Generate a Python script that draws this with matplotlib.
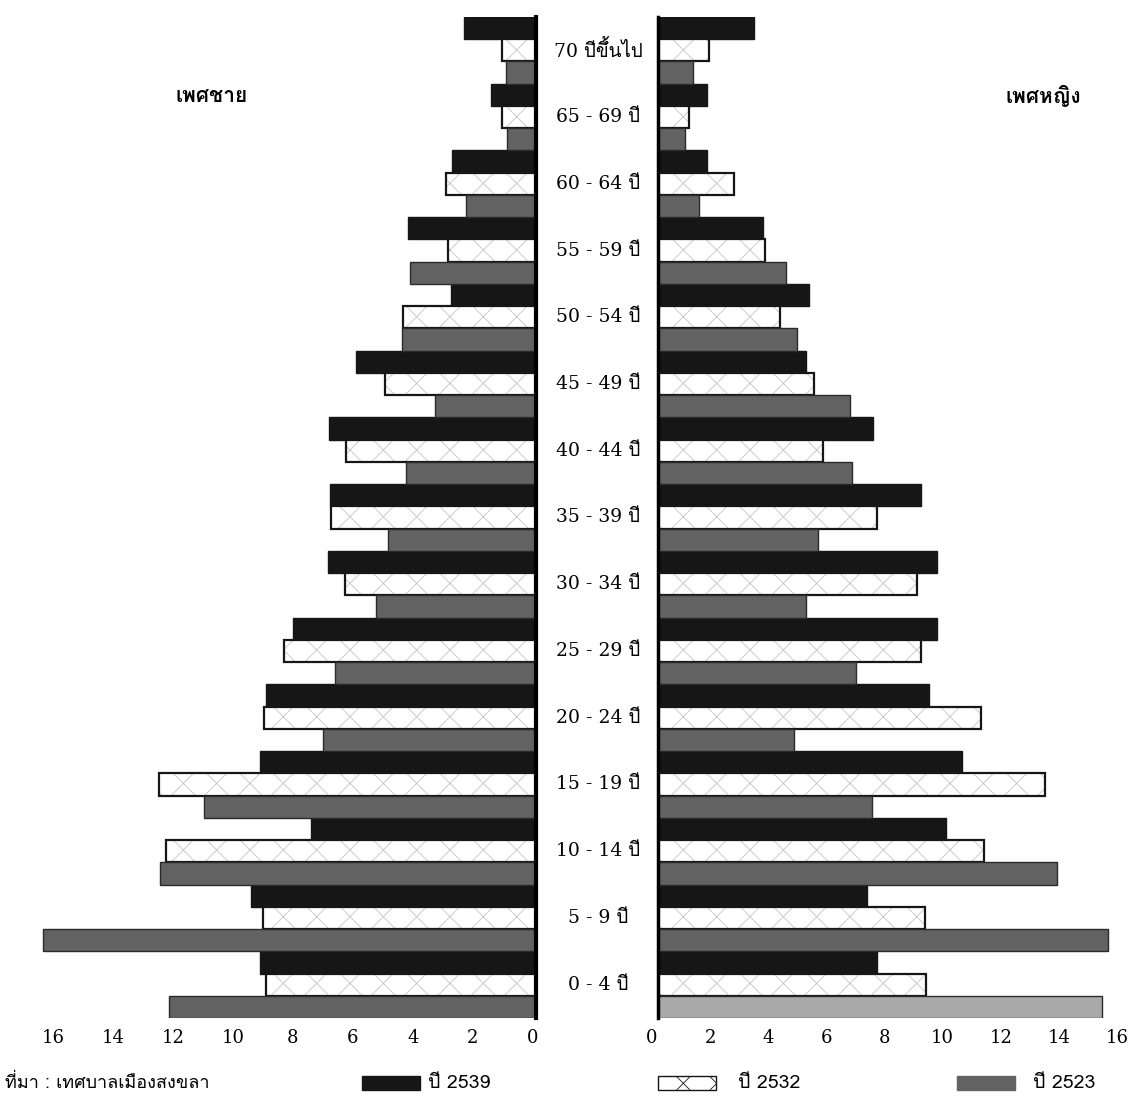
"""Population pyramid of Songkhla municipality, three census years."""

import matplotlib
matplotlib.use("Agg")
import matplotlib.pyplot as plt
from matplotlib import font_manager
from matplotlib.patches import Rectangle
from matplotlib.transforms import ScaledTranslation
from fontTools.ttLib import TTFont

# age groups, bottom to top
age_labels = ['0 - 4 ปี', '5 - 9 ปี', '10 - 14 ปี', '15 - 19 ปี', '20 - 24 ปี',
              '25 - 29 ปี', '30 - 34 ปี', '35 - 39 ปี', '40 - 44 ปี', '45 - 49 ปี',
              '50 - 54 ปี', '55 - 59 ปี', '60 - 64 ปี', '65 - 69 ปี', '70 ปีขึ้นไป']

# percent, male
male_2539 = [9.2, 9.5, 7.5, 9.2, 9.0, 8.1, 6.95, 6.87, 6.9, 6.0, 2.83, 4.27, 2.8, 1.5, 2.4]
male_2532 = [9.0, 9.1, 12.33, 12.57, 9.08, 8.4, 6.37, 6.83, 6.33, 5.03, 4.45, 2.93, 3.0, 1.13, 1.13]
male_2523 = [12.25, 16.43, 12.53, 11.07, 7.1, 6.7, 5.33, 4.95, 4.33, 3.37, 4.47, 4.2, 2.33, 0.97, 1.0]

# percent, female
female_2539 = [7.52, 7.2, 9.9, 10.45, 9.31, 9.61, 9.61, 9.06, 7.39, 5.08, 5.19, 3.61, 1.68, 1.68, 3.3]
female_2532 = [9.23, 9.2, 11.2, 13.3, 11.12, 9.06, 8.92, 7.52, 5.66, 5.36, 4.19, 3.68, 2.61, 1.07, 1.74]
female_2523 = [15.28, 15.49, 13.74, 7.35, 4.67, 6.8, 5.08, 5.5, 6.67, 6.6, 4.77, 4.39, 1.42, 0.93, 1.19]

ticks = [0, 2, 4, 6, 8, 10, 12, 14, 16]
years = ['ปี 2539', 'ปี 2532', 'ปี 2523']
source = 'ที่มา : เทศบาลเมืองสงขลา'


def find_thai_font():
    """Return the name of an installed family that has Thai glyphs."""
    for f in font_manager.fontManager.ttflist:
        try:
            tt = TTFont(f.fname, fontNumber=0, lazy=True)
            cmap = tt.getBestCmap() or {}
            if 0x0E1B in cmap and 0x0E35 in cmap:
                return f.name
        except Exception:
            continue
    return None


thai = find_thai_font()
thai_first = ([thai] if thai else []) + ['DejaVu Sans']
serif_first = ['DejaVu Serif'] + ([thai] if thai else []) + ['DejaVu Sans']
plt.rcParams['font.family'] = thai_first
plt.rcParams['hatch.linewidth'] = 0.6

BLACK = '#161616'
GRAY = '#626262'
HATCH_C = '#c4c4c4'

fig = plt.figure(figsize=(11.31, 10.96), dpi=100)
W, H = 1131, 1096

top_px, bot_px = 17, 1018
ax_b = 1 - bot_px / H
ax_h = (bot_px - top_px) / H

ax_m = fig.add_axes([35 / W, ax_b, 501 / W, ax_h])
ax_f = fig.add_axes([658 / W, ax_b, 471 / W, ax_h])

pos = list(range(len(age_labels)))
hb = 1 / 3


def draw_side(ax, s1, s2, s3, gray_colors, shift_px):
    y1 = [p + hb for p in pos]
    y3 = [p - hb for p in pos]
    ax.barh(y1, s1, height=hb, color=BLACK, edgecolor=BLACK, linewidth=1)
    ax.barh(pos, s2, height=hb, color='white', edgecolor=HATCH_C, hatch='x', linewidth=0)
    ax.barh(pos, s2, height=hb, fill=False, edgecolor=BLACK, linewidth=1.6)
    ax.barh(y3, s3, height=hb, color=gray_colors, edgecolor='#2a2a2a', linewidth=1)
    ax.set_ylim(-0.5, len(pos) - 0.5)
    ax.set_yticks([])
    ax.set_xticks(ticks)
    ax.set_xticklabels([str(t) for t in ticks], family=serif_first)
    ax.tick_params(axis='x', length=0, pad=8, labelsize=13)
    off = ScaledTranslation(shift_px / 100, 0, fig.dpi_scale_trans)
    for lab in ax.get_xticklabels():
        lab.set_transform(lab.get_transform() + off)
    for s in ax.spines.values():
        s.set_visible(False)


draw_side(ax_m, male_2539, male_2532, male_2523, GRAY, -3)
ax_m.set_xlim(16.7, 0)
ax_m.spines['right'].set_visible(True)
ax_m.spines['right'].set_linewidth(3)

f_gray = [GRAY] * len(pos)
f_gray[0] = '#a9a9a9'
draw_side(ax_f, female_2539, female_2532, female_2523, f_gray, -6)
ax_f.set_xlim(0, 16.2)
ax_f.spines['left'].set_visible(True)
ax_f.spines['left'].set_linewidth(2.5)

# age labels in the gap between the two halves
for p, lab in zip(pos, age_labels):
    y = ax_b + (p + 0.5) / len(pos) * ax_h
    fig.text(598 / W, y, lab, ha='center', va='center', fontsize=13.5,
             family=serif_first)

fig.text(212 / W, 1 - 96 / H, 'เพศชาย', ha='center', va='center',
         fontsize=15, fontweight='bold')
fig.text(1043 / W, 1 - 96 / H, 'เพศหญิง', ha='center', va='center',
         fontsize=15, fontweight='bold')

# legend row
ly = 1 - 1083 / H
fig.text(5 / W, ly, source, ha='left', va='center', fontsize=13)
leg = [(362, BLACK, None, years[0], 428),
       (658, 'white', 'x', years[1], 738),
       (957, GRAY, None, years[2], 1033)]
for x0, fc, hatch, lab, tx in leg:
    r = Rectangle((x0 / W, 1 - 1090 / H), 58 / W, 14 / H, transform=fig.transFigure,
                  facecolor=fc, edgecolor=BLACK if hatch else fc, hatch=hatch, linewidth=1)
    fig.patches.append(r)
    fig.text(tx / W, ly, lab, ha='left', va='center', fontsize=14)

fig.savefig('out.png', dpi=100, facecolor='white')
